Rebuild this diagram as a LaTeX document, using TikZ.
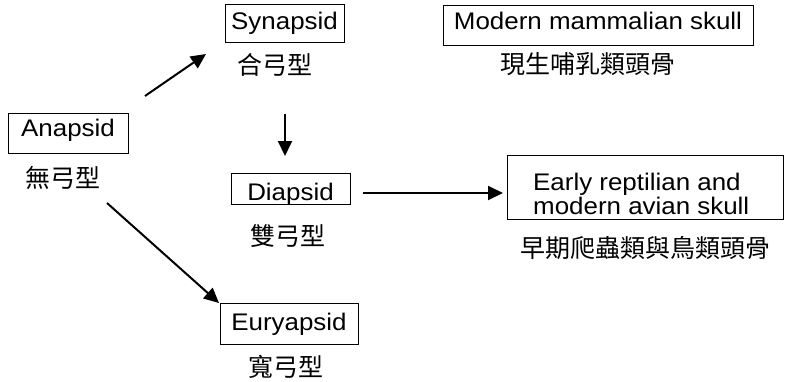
\documentclass[tikz,border=0pt]{standalone}
\usepackage{fontspec}
\setmainfont{Liberation Sans}[FakeStretch=1.08]
\newfontfamily\cjk{Noto Sans CJK TC}
\usetikzlibrary{arrows.meta}
\begin{document}
\begin{tikzpicture}[x=1pt,y=-1pt,
  box/.style={draw, line width=1pt, font=\fontsize{24}{29}\selectfont, inner sep=0pt, anchor=base},
  txt/.style={font=\fontsize{24}{29}\selectfont, inner sep=0pt, anchor=base west},
  lab/.style={font=\cjk\fontsize{25}{28}\selectfont, inner sep=0pt},
  arr/.style={line width=2pt, -{Triangle[length=15pt,width=14pt]}}]
\useasboundingbox (0,0) rectangle (788,381);
% boxes (anchored at text baseline)
\node[box, minimum width=120pt, text height=23.4pt, text depth=16.6pt] (ana) at (68,136.7) {Anapsid};
\node[box, minimum width=119pt, text height=25pt, text depth=12.7pt] (syn) at (284.5,29.3) {Synapsid};
\node[box, minimum width=310pt, text height=24.3pt, text depth=15.7pt] (mod) at (598,29.3) {Modern mammalian skull};
\node[box, minimum width=119pt, text height=26.7pt, text depth=4.5pt] (dia) at (290.5,200) {Diapsid};
\node[box, minimum width=138pt, text height=26.7pt, text depth=14pt] (eur) at (289,330) {Euryapsid};
\node[draw, line width=1pt, inner sep=0pt, minimum width=276pt, minimum height=64pt] (early) at (645,187) {};
\node[txt] (early1) at (533,190.5) {Early reptilian and};
\node[txt] (early2) at (533,214.5) {modern avian skull};
% labels
\node[lab] (anal) at (63,178) {無弓型};
\node[lab] (synl) at (275,65) {合弓型};
\node[lab] (modl) at (588,64) {現生哺乳類頭骨};
\node[lab] (dial) at (288,236) {雙弓型};
\node[lab] (earlyl) at (645,248) {早期爬蟲類與鳥類頭骨};
\node[lab] (eurl) at (286,367) {寬弓型};
% arrow ends
\coordinate (a1) at (145,96);
\coordinate (a2) at (206,54);
\coordinate (b1) at (285,114);
\coordinate (b2) at (285,156);
\coordinate (c1) at (363,193);
\coordinate (c2) at (503,193);
\coordinate (d1) at (107,203);
\coordinate (d2) at (219,303);
\draw[arr] (a1) -- (a2);
\draw[arr] (b1) -- (b2);
\draw[arr] (c1) -- (c2);
\draw[arr] (d1) -- (d2);
\end{tikzpicture}
\end{document}
